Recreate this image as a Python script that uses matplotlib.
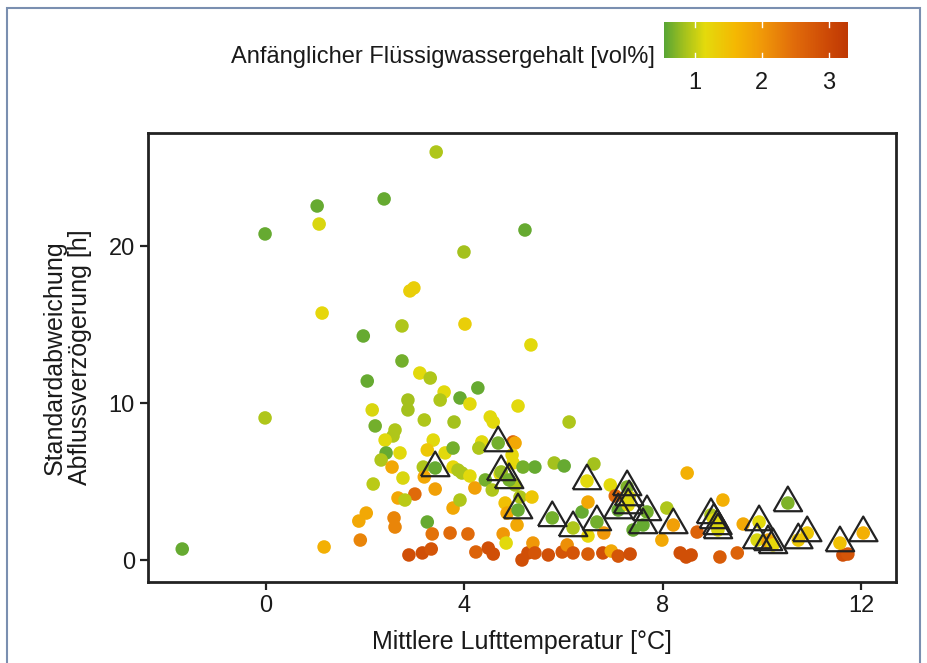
import matplotlib.pyplot as plt
import matplotlib.colors as mcolors
from matplotlib.patches import Rectangle
from matplotlib.font_manager import fontManager

# fonts
names = {f.name for f in fontManager.ttflist}
fam = [f for f in ["Liberation Sans Narrow", "Liberation Sans", "DejaVu Sans"] if f in names]
plt.rcParams['font.family'] = fam

# circles: mean air temperature, std of runoff delay, initial liquid water content
circ_x = [-1.69, -0.02, -0.02, 1.03, 1.07, 2.38, 3.43, 2.98, 2.90, 1.13, 1.96, 2.74, 5.22, 3.99,
          4.01, 5.34, 2.74, 3.10, 2.04, 2.86, 2.86, 2.14, 2.20, 2.60, 2.56, 2.40, 3.31, 3.59,
          3.51, 3.91, 4.27, 4.11, 5.08, 6.11, 3.19, 3.79, 4.52, 4.58, 3.37, 3.25, 3.61, 3.77,
          4.35, 4.29, 4.98, 5.02, 4.96, 4.98, 5.42, 5.18, 5.81, 6.01, 6.61, 2.70, 2.42, 2.32,
          2.54, 3.17, 2.76, 3.19, 2.16, 3.41, 3.00, 2.66, 2.80, 3.77, 3.87, 3.95, 4.11, 4.21,
          4.42, 4.56, 4.72, 5.02, 5.12, 5.36, 3.77, 3.91, 4.82, 4.86, 5.06, 3.25, 3.35, 3.71,
          4.07, 4.78, 4.84, 2.02, 1.87, 2.58, 2.60, 1.90, 1.17, 2.88, 3.15, 3.33, 4.23, 4.48,
          4.58, 5.16, 5.28, 5.38, 5.42, 5.69, 5.97, 6.07, 6.19, 6.49, 6.79, 6.96, 7.10, 7.34,
          6.37, 6.49, 6.49, 6.81, 6.94, 7.04, 7.40, 8.08, 7.98, 8.49, 8.35, 8.47, 8.57, 8.69,
          9.15, 9.50, 9.21, 9.62, 10.12, 11.63, 11.73]
circ_y = [0.70, 20.77, 9.05, 22.55, 21.40, 23.00, 25.99, 17.33, 17.14, 15.73, 14.27, 14.91, 21.02, 19.62,
          15.03, 13.70, 12.68, 11.91, 11.40, 10.19, 9.56, 9.56, 8.54, 8.28, 7.90, 7.64, 11.59, 10.70,
          10.19, 10.32, 10.96, 9.94, 9.81, 8.79, 8.92, 8.79, 9.11, 8.79, 7.64, 7.01, 6.82, 7.13,
          7.52, 7.13, 7.52, 7.45, 6.69, 6.18, 5.92, 5.92, 6.18, 5.99, 6.12, 6.82, 6.82, 6.37,
          5.92, 5.92, 5.22, 5.29, 4.84, 4.52, 4.20, 3.95, 3.82, 5.92, 5.73, 5.54, 5.35, 4.59,
          5.10, 4.46, 5.48, 4.78, 4.01, 4.01, 3.31, 3.82, 3.63, 2.99, 2.23, 2.42, 1.66, 1.72,
          1.66, 1.66, 1.08, 2.99, 2.48, 2.68, 2.10, 1.27, 0.83, 0.32, 0.45, 0.70, 0.51, 0.76,
          0.38, 0.00, 0.45, 1.08, 0.45, 0.32, 0.51, 0.96, 0.45, 0.38, 0.45, 0.57, 0.25, 0.38,
          3.06, 3.69, 1.53, 1.72, 4.78, 4.08, 1.91, 3.31, 1.27, 5.54, 0.45, 0.19, 0.32, 1.78,
          0.19, 0.45, 3.82, 2.29, 1.27, 0.32, 0.38]
circ_c = [0.6, 0.6, 0.9, 0.6, 1.1, 0.6, 0.9, 1.3, 1.3, 1.2, 0.6, 0.9, 0.6, 0.85,
          1.3, 1.15, 0.65, 1.15, 0.6, 0.85, 0.85, 1.1, 0.65, 0.9, 0.9, 1.15, 0.9, 1.15,
          0.9, 0.6, 0.6, 1.15, 1.15, 0.9, 0.9, 0.85, 1.15, 1.15, 1.15, 1.4, 1.15, 0.65,
          1.15, 0.9, 2.6, 1.8, 1.2, 1.2, 0.6, 0.65, 0.85, 0.6, 0.85, 1.15, 0.6, 0.9,
          1.8, 0.9, 1.1, 1.8, 0.95, 1.9, 2.5, 1.8, 0.95, 1.2, 0.9, 0.9, 1.15, 1.9,
          0.65, 0.9, 1.15, 0.9, 0.9, 1.4, 1.8, 0.9, 1.5, 1.8, 1.8, 0.6, 2.4, 2.5,
          2.5, 2.0, 1.15, 1.8, 1.8, 2.2, 2.2, 2.2, 1.7, 2.9, 2.9, 2.8, 2.6, 2.9,
          2.9, 2.9, 2.9, 2.0, 2.8, 2.9, 2.8, 2.1, 2.8, 2.7, 2.9, 1.8, 2.8, 2.9,
          0.6, 1.8, 1.2, 2.0, 1.15, 2.5, 0.6, 0.9, 1.8, 1.7, 2.9, 2.9, 2.9, 2.6,
          2.7, 2.6, 1.7, 1.8, 1.8, 2.9, 2.8]

# triangles
tri_x = [3.41, 4.68, 4.74, 4.90, 5.08, 5.77, 6.19, 6.47, 6.67, 7.10, 7.28, 7.32, 7.30, 7.68, 7.60,
         8.21, 8.97, 9.03, 9.10, 9.11, 9.94, 9.90, 10.12, 10.22, 10.52, 10.73, 10.91, 11.57, 12.04]
tri_y = [5.86, 7.45, 5.61, 5.10, 3.18, 2.68, 2.04, 5.03, 2.42, 3.18, 4.65, 4.01, 3.50, 3.06, 2.23,
         2.23, 2.87, 2.55, 2.17, 1.91, 2.42, 1.27, 1.15, 0.96, 3.63, 1.27, 1.72, 1.08, 1.72]
tri_c = [0.6, 0.65, 0.8, 0.65, 0.6, 0.65, 0.9, 1.15, 0.65, 0.6, 0.7, 1.1, 1.15, 0.65, 0.6,
         1.9, 0.9, 1.15, 1.15, 1.1, 1.15, 1.1, 1.9, 1.2, 0.7, 1.4, 1.4, 1.5, 1.7]

vmin, vmax = 0.54, 3.28
stops = [(0.54, "#58a535"), (0.85, "#a6c21c"), (1.15, "#e4da0c"), (1.6, "#f4b802"),
         (2.0, "#f09808"), (2.5, "#e06a0a"), (3.0, "#cc4806"), (3.28, "#bf3804")]
cmap = mcolors.LinearSegmentedColormap.from_list(
    "lwc", [((v - vmin) / (vmax - vmin), c) for v, c in stops])
norm = mcolors.Normalize(vmin, vmax)

fig = plt.figure(figsize=(9.28, 6.63), dpi=100)
ax = fig.add_axes([0.1595, 0.1222, 0.806, 0.6772])

ax.scatter(circ_x, circ_y, c=circ_c, cmap=cmap, norm=norm, s=95, linewidths=0, zorder=2)
ax.scatter(tri_x, tri_y, c=tri_c, cmap=cmap, norm=norm, s=95, linewidths=0, zorder=3)
tri = [(-1, -0.577), (1, -0.577), (0, 1.155), (-1, -0.577)]
ax.scatter(tri_x, tri_y, marker=tri, s=560, facecolors="none", edgecolors="#222222",
           linewidths=1.6, zorder=4)

ax.set_xlim(-2.38, 12.7)
ax.set_ylim(-1.4, 27.2)
ax.set_xticks([0, 4, 8, 12])
ax.set_yticks([0, 10, 20])
ax.tick_params(labelsize=17, length=6, width=1.6, color="#222222", labelcolor="#1a1a1a")
for s in ax.spines.values():
    s.set_linewidth(2)
    s.set_color("#222222")
ax.set_xlabel("Mittlere Lufttemperatur [°C]", fontsize=18, color="#1a1a1a", labelpad=9)
ax.set_ylabel("Standardabweichung\nAbflussverzögerung [h]", fontsize=18, color="#1a1a1a",
              labelpad=12, linespacing=1.05)

# colour bar on top
cax = fig.add_axes([0.7155, 0.9125, 0.198, 0.0543])
sm = plt.cm.ScalarMappable(norm=norm, cmap=cmap)
cb = fig.colorbar(sm, cax=cax, orientation="horizontal", ticks=[1, 2, 3])
cb.outline.set_visible(False)
cax.tick_params(labelsize=17, length=0, pad=10, labelcolor="#1a1a1a")
for t in [1, 2, 3]:
    cax.plot([t, t], [0, 0.15], color="white", lw=1, transform=cax.get_xaxis_transform())
    cax.plot([t, t], [0.85, 1], color="white", lw=1, transform=cax.get_xaxis_transform())
fig.text(655 / 928, 1 - 57 / 663, "Anfänglicher Flüssigwassergehalt [vol%]", fontsize=17,
         ha="right", va="center", color="#1a1a1a")

# outer frame
fig.patches.append(Rectangle((7 / 928, -0.05), 913 / 928, 1.05 - 8 / 663,
                             transform=fig.transFigure, fill=False, edgecolor="#7a8fb0", lw=1.5))

fig.savefig("out.png", dpi=100)
